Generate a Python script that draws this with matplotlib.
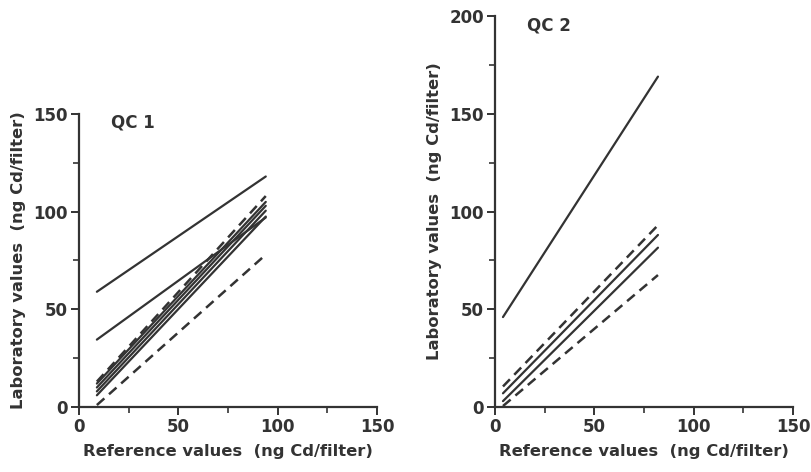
import matplotlib.pyplot as plt
from matplotlib.ticker import MultipleLocator

plt.rcParams['font.family'] = ['DejaVu Sans']
plt.rcParams['font.weight'] = 'bold'

# regression lines: x range plus y at start/end, with line style
qc1_x = [9, 94]
qc1_solid = [[59, 118], [34.5, 97], [12, 105], [10, 103], [8, 100.5], [6, 97.5]]
qc1_dashed = [[13, 108], [1, 78]]

qc2_x = [4, 82]
qc2_solid = [[46, 169], [7, 88], [3, 81.5]]
qc2_dashed = [[10.5, 93], [0.5, 67.5]]

ink = '#333333'

fig = plt.figure(figsize=(8.11, 4.72), dpi=100)
ax1 = fig.add_axes([0.0974, 0.1377, 0.3675, 0.6208])
ax2 = fig.add_axes([0.6104, 0.1377, 0.3675, 0.8284])


def draw(ax, xs, solid, dashed, ymax, title):
    for ys in solid:
        ax.plot(xs, ys, color=ink, lw=1.6, solid_capstyle='round')
    for ys in dashed:
        ax.plot(xs, ys, color=ink, lw=1.8, linestyle=(0, (4, 2.5)))
    ax.set_xlim(0, 150)
    ax.set_ylim(0, ymax)
    ax.xaxis.set_major_locator(MultipleLocator(50))
    ax.xaxis.set_minor_locator(MultipleLocator(25))
    ax.yaxis.set_major_locator(MultipleLocator(50))
    ax.yaxis.set_minor_locator(MultipleLocator(25))
    for s in ['top', 'right']:
        ax.spines[s].set_visible(False)
    for s in ['left', 'bottom']:
        ax.spines[s].set_linewidth(1.6)
        ax.spines[s].set_color(ink)
    ax.tick_params(which='major', length=6, width=1.4, color=ink,
                   labelsize=12, labelcolor=ink, pad=2)
    ax.tick_params(which='minor', length=4, width=1.2, color=ink)
    for lab in ax.get_xticklabels() + ax.get_yticklabels():
        lab.set_fontweight('bold')
    ax.set_xlabel('Reference values  (ng Cd/filter)', fontsize=11.8,
                  fontweight='bold', color=ink, labelpad=6)
    ax.set_ylabel('Laboratory values  (ng Cd/filter)', fontsize=11.8,
                  fontweight='bold', color=ink, labelpad=5)
    ax.text(16, ymax, title, ha='left', va='top', fontsize=12,
            fontweight='bold', color=ink)


draw(ax1, qc1_x, qc1_solid, qc1_dashed, 150, 'QC 1')
draw(ax2, qc2_x, qc2_solid, qc2_dashed, 200, 'QC 2')

fig.savefig('out.png', dpi=100, facecolor='white')
